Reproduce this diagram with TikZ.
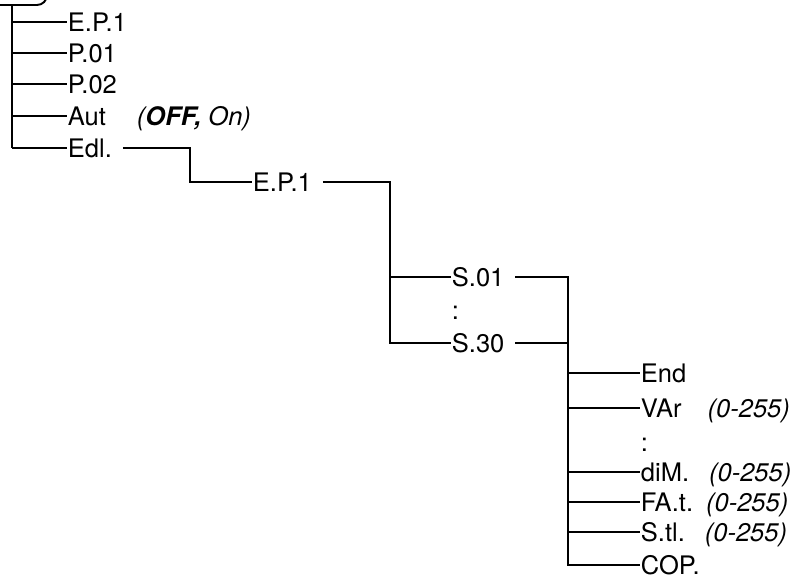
\documentclass[tikz,border=0pt]{standalone}
\usepackage{fontspec}
\setmainfont{TeX Gyre Heros}
\newfontfamily\menufont{TeX Gyre Heros}[Scale=1.23]
\usepackage{tikz}
\tikzstyle{every node}=[thick]
\tikzstyle{item}=[anchor=west,inner sep=0.5pt,text height=18pt,text depth=0pt,font=\menufont\huge]
\tikzstyle{wire}=[line width=1.9pt]

\begin{document}
\begin{tikzpicture}[x=1pt,y=-1pt]
	\useasboundingbox (0,0) rectangle (798,579);
	% menu level 1
	\coordinate(top) at (47,-20);
	\coordinate(cut) at (0,5);
	\coordinate(t1) at (12,5);
	\node(ep1)[item] at (67,22){E.P.1};
	\node(p01)[item] at (67,53){P.01};
	\node(p02)[item] at (67,84){P.02};
	\node(aut)[item] at (67,116){Aut\hspace{31pt}\textit{(\textbf{OFF,} On)}};
	\node(edl)[item] at (67,148){Edl.};

	\draw[wire,rounded corners=10pt] (top) |- (cut);
	\draw[wire] (t1) -- (t1 |- edl.west);
	\foreach \n in {ep1,p01,p02,aut,edl}
		\draw[wire] (t1 |- \n.west) -- (\n.west);

	% level 2
	\coordinate(t2) at (190,0);
	\node(ep2)[item] at (252,182){E.P.1};
	\draw[wire] ([xshift=10pt]edl.east) -| (t2 |- ep2.west) -- (ep2.west);

	% level 3
	\coordinate(t3) at (390,0);
	\node(s01)[item] at (451,277){S.01};
	\node(dots1)[item] at (451,310){:};
	\node(s30)[item] at (451,343){S.30};
	\draw[wire] ([xshift=10pt]ep2.east) -| (t3 |- s30.west) -- (s30.west);
	\draw[wire] (t3 |- s01.west) -- (s01.west);

	% level 4
	\coordinate(t4) at (568,0);
	\node(end)[item] at (640,373){End};
	\node(var)[item] at (640,408){VAr\hspace{26pt}\textit{(0-255)}};
	\node(dots2)[item] at (640,442){:};
	\node(dim)[item] at (640,472){diM.\hspace{20pt}\textit{(0-255)}};
	\node(fat)[item] at (640,502){FA.t.\hspace{13pt}\textit{(0-255)}};
	\node(stl)[item] at (640,532){S.tl.\hspace{20pt}\textit{(0-255)}};
	\node(cop)[item] at (640,565){COP.};
	\draw[wire] ([xshift=10pt]s01.east) -| (t4 |- cop.west) -- (cop.west);
	\draw[wire] ([xshift=10pt]s30.east) -- (t4 |- s30.east);
	\foreach \n in {end,var,dim,fat,stl}
		\draw[wire] (t4 |- \n.west) -- (\n.west);
\end{tikzpicture}
\end{document}
